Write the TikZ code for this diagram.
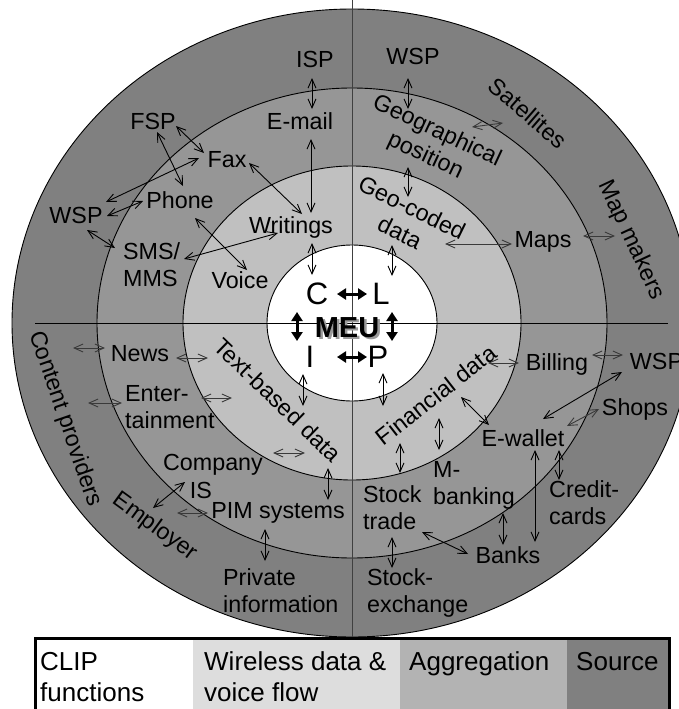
\documentclass[tikz,border=0pt]{standalone}
\usepackage{fontspec}
\setmainfont{Liberation Sans}
\usetikzlibrary{arrows.meta}
\definecolor{ringsrc}{HTML}{808080}
\definecolor{ringagg}{HTML}{969696}
\definecolor{ringwl}{HTML}{C0C0C0}
\definecolor{legwl}{HTML}{DDDDDD}
\definecolor{legagg}{HTML}{B3B3B3}
\definecolor{legsrc}{HTML}{808080}
\definecolor{thinarr}{HTML}{3A3A3A}
\definecolor{axisgray}{HTML}{404040}
\definecolor{shadowgray}{HTML}{9A9A9A}
\newcommand\mytwol[2]{\begin{tabular}[t]{@{}l@{}}#1\\#2\end{tabular}}
\begin{document}
\begin{tikzpicture}[x=1pt,y=-1pt,
  lbl/.style={font=\fontsize{23.3}{27.5}\selectfont, inner sep=0pt},
  lft/.style={lbl, anchor=base west},
  ctr/.style={lbl, anchor=base},
  rot/.style={lbl, anchor=center, align=center},
  big/.style={font=\fontsize{31}{36}\selectfont, inner sep=0pt, anchor=base},
  leg/.style={font=\fontsize{26}{31}\selectfont, inner sep=0pt, anchor=base west},
  ring/.style={draw=black, line width=0.9pt},
  arr/.style={line width=0.9pt, {Straight Barb[length=9pt,width=8pt]}-{Straight Barb[length=9pt,width=8pt]}},
  garr/.style={arr, draw=thinarr},
  fat/.style={line width=3pt, {Triangle[length=9pt,width=11pt]}-{Triangle[length=9pt,width=11pt]}},
]
\clip (0,0) rectangle (679,709);
\fill[white] (0,0) rectangle (679,709);
% rings
\coordinate (ctr) at (352,323);
\filldraw[ring, fill=ringsrc] (ctr) ellipse [x radius=340pt, y radius=314pt];
\filldraw[ring, fill=ringagg] (ctr) ellipse [x radius=255pt, y radius=235pt];
\filldraw[ring, fill=ringwl] (ctr) ellipse [x radius=169pt, y radius=157pt];
\filldraw[ring, fill=white] (ctr) ellipse [x radius=85pt, y radius=78pt];
% axes
\coordinate (vtop) at (352,0);
\coordinate (vbot) at (352,638);
\coordinate (hl) at (35,323);
\coordinate (hr) at (668,323);
\draw[axisgray, line width=1pt] (vtop) -- (vbot);
\draw[black, line width=0.9pt] (hl) -- (hr);
% thin arrows
\foreach \n/\xa/\ya/\xb/\yb in {
  1/312/78/312/109, 2/311/139/311/213, 3/176/126/204/153, 4/157/132/183/186,
  5/106/202/199/158, 6/107/216/143/201, 7/87/230/115/248, 8/249/163/302/214,
  9/195/218/247/270, 10/184/259/278/233, 11/312/243/312/275, 12/408/78/408/109,
  14/408/167/408/197, 17/392/245/392/276, 23/328/468/328/500, 24/185/482/153/508,
  26/265/529/265/561, 27/303/374/303/406, 28/383/373/383/406, 31/622/372/543/419,
  33/461/397/489/425, 34/439/418/439/450, 35/400/443/400/473, 36/559/450/559/480,
  37/535/450/535/542, 38/503/513/503/545, 39/422/532/468/554, 40/392/537/392/568}{
  \coordinate (s\n) at (\xa,\ya);
  \coordinate (e\n) at (\xb,\yb);
  \draw[arr] (s\n) -- (e\n);
}
\foreach \n/\xa/\ya/\xb/\yb in {
  13/472/127/503/123, 15/445/244/512/244, 16/583/236/615/236, 18/73/348/105/348,
  19/176/358/208/358, 20/88/403/122/403, 21/201/398/232/398, 22/273/453/305/453,
  25/177/513/208/513, 29/488/363/519/363, 30/592/355/623/355, 32/599/409/567/426}{
  \coordinate (s\n) at (\xa,\ya);
  \coordinate (e\n) at (\xb,\yb);
  \draw[garr] (s\n) -- (e\n);
}
% labels, top-left
\node[ctr] (isp) at (315,67) {ISP};
\node[ctr] (email) at (300,129) {E-mail};
\node[ctr] (fsp) at (153,129) {FSP};
\node[ctr] (fax) at (227,167) {Fax};
\node[ctr] (phone) at (180,208) {Phone};
\node[ctr] (wspl) at (76,223) {WSP};
\node[ctr] (writings) at (291,233) {Writings};
\node[ctr] (voice) at (240,288) {Voice};
\node[lft] (sms) at (123,259) {\mytwol{SMS/}{MMS}};
% top-right
\node[ctr] (wspt) at (413,65) {WSP};
\node[rot, rotate=-41] (sat) at (528,113) {Satellites};
\node[rot, rotate=-25] (geo) at (431,144) {Geographical\\position};
\node[rot, rotate=-26] (geocoded) at (406,220) {Geo-coded\\data};
\node[ctr] (maps) at (543,247) {Maps};
\node[rot, rotate=-65] (mapmakers) at (631,240) {Map makers};
% bottom-left
\node[rot, rotate=-71] (content) at (65,419) {Content providers};
\node[ctr] (news) at (140,361) {News};
\node[lft] (enter) at (125,401) {\mytwol{Enter-}{tainment}};
\node[rot, rotate=-44] (textbased) at (278,400) {Text-based data};
\node[ctr] (company) at (213,470) {Company};
\node[ctr] (is) at (201,498) {IS};
\node[ctr] (pim) at (278,518) {PIM systems};
\node[rot, rotate=-36] (employer) at (155,527) {Employer};
\node[lft] (private) at (223,585) {\mytwol{Private}{information}};
% bottom-right
\node[rot, rotate=38] (financial) at (436,395) {Financial data};
\node[lft] (stock) at (363,502) {\mytwol{Stock}{trade}};
\node[lft] (exch) at (367,585) {\mytwol{Stock-}{exchange}};
\node[lft] (mbank) at (433,477) {\mytwol{M-}{banking}};
\node[ctr] (billing) at (557,370) {Billing};
\node[ctr] (wspr) at (656.5,369) {WSP};
\node[ctr] (shops) at (635,415) {Shops};
\node[ctr] (ewallet) at (523,446) {E-wallet};
\node[lft] (credit) at (549,497) {\mytwol{Credit-}{cards}};
\node[ctr] (banks) at (508,563) {Banks};
% centre
\node[big] (c) at (317,304) {C};
\node[big] (l) at (381,304) {L};
\node[big] (i) at (310,367) {I};
\node[big] (p) at (378,367) {P};
\node[font=\fontsize{29}{34}\selectfont\bfseries, inner sep=0pt, anchor=base, text=shadowgray] (meush) at (349.5,339.5) {MEU};
\node[font=\fontsize{29}{34}\selectfont\bfseries, inner sep=0pt, anchor=base] (meu) at (347,337) {MEU};
\coordinate (cl1) at (337,294); \coordinate (cl2) at (367,294);
\coordinate (ip1) at (337,357); \coordinate (ip2) at (367,357);
\coordinate (ci1) at (297,312); \coordinate (ci2) at (297,341);
\coordinate (lp1) at (392,312); \coordinate (lp2) at (392,341);
\draw[fat] (cl1) -- (cl2);
\draw[fat] (ip1) -- (ip2);
\draw[fat] (ci1) -- (ci2);
\draw[fat] (lp1) -- (lp2);
% legend
\fill[legwl] (193,638.5) rectangle (400,712);
\fill[legagg] (400,638.5) rectangle (567,712);
\fill[legsrc] (567,638.5) rectangle (669,712);
\draw[line width=3pt] (35,638.5) rectangle (669,712);
\node[leg] (lg1) at (40,670) {\mytwol{CLIP}{functions}};
\node[leg] (lg2) at (204,670) {\mytwol{Wireless data \&}{voice flow}};
\node[leg] (lg3) at (409,670) {Aggregation};
\node[leg] (lg4) at (576,670) {Source};
\end{tikzpicture}
\end{document}
